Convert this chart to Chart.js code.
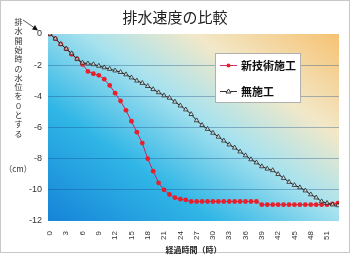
<!DOCTYPE html>
<html>
<head>
<meta charset="utf-8">
<script src="https://cdn.jsdelivr.net/npm/chart.js@4.4.0/dist/chart.umd.min.js"></script>
<style>
  html, body { margin: 0; padding: 0; background: #fff; }
  #wrap { width: 350px; height: 257px; position: relative; }
</style>
</head>
<body>
<div id="wrap"><canvas id="myChart" width="350" height="257"></canvas></div>
<script>
  const hours = []
  for (let h = 0; h <= 53; h++) hours.push(h)

  const tickValues = [0, 3, 6, 9, 12, 15, 18, 21, 24, 27, 30, 33, 36, 39, 42, 45, 48, 51]
  const yTicks = [0, -2, -4, -6, -8, -10, -12]

  // 新技術施工
  const newTech = [
    0, -0.3, -0.65, -0.95, -1.3, -1.6, -1.95, -2.4, -2.55, -2.65,
    -2.9, -3.3, -3.8, -4.3, -4.9, -5.6, -6.3, -7.0, -8.0, -8.8,
    -9.55, -10.0, -10.3, -10.5, -10.6, -10.65, -10.75, -10.75, -10.75, -10.75,
    -10.75, -10.75, -10.75, -10.75, -10.75, -10.75, -10.75, -10.75, -10.75, -10.95,
    -10.95, -10.95, -10.95, -10.95, -10.95, -10.95, -10.95, -10.95, -10.95, -10.95,
    -10.95, -10.95, -10.9, -10.85
  ]

  // 無施工
  const noTreatment = [
    0, -0.3, -0.65, -0.95, -1.25, -1.6, -1.85, -1.9, -1.95, -2.05,
    -2.15, -2.25, -2.35, -2.45, -2.6, -2.8, -3.0, -3.15, -3.35, -3.55,
    -3.75, -3.95, -4.1, -4.35, -4.6, -4.85, -5.15, -5.55, -5.85, -6.1,
    -6.35, -6.6, -6.85, -7.1, -7.3, -7.55, -7.8, -8.05, -8.25, -8.5,
    -8.65, -8.75, -9.0, -9.25, -9.5, -9.7, -9.85, -10.05, -10.3, -10.5,
    -10.75, -10.85, -10.95, -11.0
  ]

  const yNote = "排水開始時の水位を０とする"
  const jp = '"Noto Sans CJK JP", "Noto Sans", sans-serif'

  function toPoints(values) {
    let pts = []
    for (let i = 0; i < hours.length; i++) {
      pts.push({ x: hours[i], y: values[i] })
    }
    return pts
  }

  const decorations = {
    id: "decorations",
    beforeDraw(chart) {
      const ctx = chart.ctx
      const a = chart.chartArea
      ctx.save()
      ctx.fillStyle = "#fff"
      ctx.fillRect(0, 0, chart.width, chart.height)
      ctx.strokeStyle = "#c8c8c8"
      ctx.lineWidth = 1
      ctx.strokeRect(0.5, 0.5, chart.width - 1, chart.height - 5)
      // blue at the bottom left, pale in the middle, orange at the top right
      let g = ctx.createLinearGradient(a.left + 30, a.bottom + 20, a.right - 80, a.top - 50)
      g.addColorStop(0, "#1684d8")
      g.addColorStop(0.3, "#30b6e6")
      g.addColorStop(0.55, "#a8e2ee")
      g.addColorStop(0.75, "#f2e8c8")
      g.addColorStop(1, "#f6c478")
      ctx.fillStyle = g
      ctx.fillRect(a.left, a.top, a.right - a.left, a.bottom - a.top)
      ctx.restore()
    },
    afterDraw(chart) {
      const ctx = chart.ctx
      ctx.save()
      // title
      ctx.fillStyle = "#222"
      ctx.font = "15px " + jp
      ctx.textAlign = "center"
      ctx.textBaseline = "middle"
      ctx.fillText("排水速度の比較", 175, 17)

      // vertical note
      ctx.font = "8px " + jp
      ctx.fillStyle = "#333"
      for (let i = 0; i < yNote.length; i++) {
        ctx.fillText(yNote[i], 18.5, 22 + i * 9.3)
      }
      ctx.fillText("（cm）", 18, 169)

      // arrow
      ctx.strokeStyle = "#333"
      ctx.lineWidth = 0.8
      ctx.beginPath()
      ctx.moveTo(23, 20)
      ctx.lineTo(34, 27.5)
      ctx.stroke()
      ctx.fillStyle = "#111"
      ctx.beginPath()
      ctx.moveTo(38, 30.5)
      ctx.lineTo(32, 29.5)
      ctx.lineTo(35, 25)
      ctx.closePath()
      ctx.fill()

      // legend
      ctx.fillStyle = "#fff"
      ctx.fillRect(215, 53, 85, 49)
      ctx.strokeStyle = "#b0b0b0"
      ctx.lineWidth = 1
      ctx.strokeRect(215.5, 53.5, 85, 49)

      ctx.strokeStyle = "#d0306a"
      ctx.beginPath()
      ctx.moveTo(220, 65.5)
      ctx.lineTo(237, 65.5)
      ctx.stroke()
      ctx.fillStyle = "#e8202a"
      ctx.beginPath()
      ctx.arc(228.5, 65.5, 2, 0, Math.PI * 2)
      ctx.fill()

      ctx.strokeStyle = "#333"
      ctx.beginPath()
      ctx.moveTo(220, 91.5)
      ctx.lineTo(237, 91.5)
      ctx.stroke()
      ctx.fillStyle = "#fff"
      ctx.beginPath()
      ctx.moveTo(228.5, 89)
      ctx.lineTo(231, 93)
      ctx.lineTo(226, 93)
      ctx.closePath()
      ctx.fill()
      ctx.stroke()

      ctx.fillStyle = "#111"
      ctx.font = "bold 11px " + jp
      ctx.textAlign = "left"
      ctx.fillText("新技術施工", 241, 66)
      ctx.fillText("無施工", 241, 92)
      ctx.restore()
    }
  }

  function drawChart() {
    const ctx = document.getElementById("myChart")

    new Chart(ctx, {
      type: "line",
      data: {
        datasets: [
          {
            label: "無施工",
            data: toPoints(noTreatment),
            borderColor: "#222",
            borderWidth: 1,
            pointStyle: "triangle",
            pointRadius: 2.6,
            pointBackgroundColor: "rgba(255,255,255,0.7)",
            pointBorderColor: "#222",
            pointBorderWidth: 0.8,
            tension: 0,
            order: 0,
          },
          {
            label: "新技術施工",
            data: toPoints(newTech),
            borderColor: "#c02868",
            borderWidth: 1,
            pointStyle: "circle",
            pointRadius: 2.4,
            pointBackgroundColor: "#e8202a",
            pointBorderColor: "#e8202a",
            pointBorderWidth: 0,
            tension: 0,
            order: 1,
          },
        ],
      },
      options: {
        responsive: false,
        animation: false,
        events: [],
        layout: { padding: { top: 34, right: 11, left: 0, bottom: 0 } },
        plugins: {
          legend: { display: false },
          title: { display: false },
          tooltip: { enabled: false },
        },
        scales: {
          x: {
            type: "linear",
            min: -0.35,
            max: 53.2,
            afterBuildTicks(scale) {
              scale.ticks = tickValues.map(v => ({ value: v }))
            },
            afterFit(scale) {
              scale.height = 36
            },
            grid: { display: false },
            border: { display: false },
            ticks: {
              autoSkip: false,
              minRotation: 90,
              maxRotation: 90,
              padding: 2,
              color: "#333",
              font: { size: 8, family: "Liberation Sans, Arial, sans-serif" },
            },
            title: {
              display: true,
              text: "経過時間（時）",
              color: "#222",
              padding: { top: 0, bottom: 2 },
              font: { size: 8, weight: "bold", family: jp },
            },
          },
          y: {
            min: -12,
            max: 0,
            afterBuildTicks(scale) {
              scale.ticks = yTicks.map(v => ({ value: v }))
            },
            afterFit(scale) {
              scale.width = 48
            },
            grid: {
              color: function (c) {
                return c.tick.value === 0 || c.tick.value === -12 ? "rgba(0,0,0,0)" : "rgba(20,70,130,0.35)"
              },
              lineWidth: 1,
              drawTicks: false,
            },
            border: { display: false },
            ticks: {
              padding: 6,
              color: "#333",
              font: { size: 9, family: "Liberation Sans, Arial, sans-serif" },
            },
          },
        },
      },
      plugins: [decorations],
    })
  }

  document.addEventListener("DOMContentLoaded", drawChart)
</script>
</body>
</html>
